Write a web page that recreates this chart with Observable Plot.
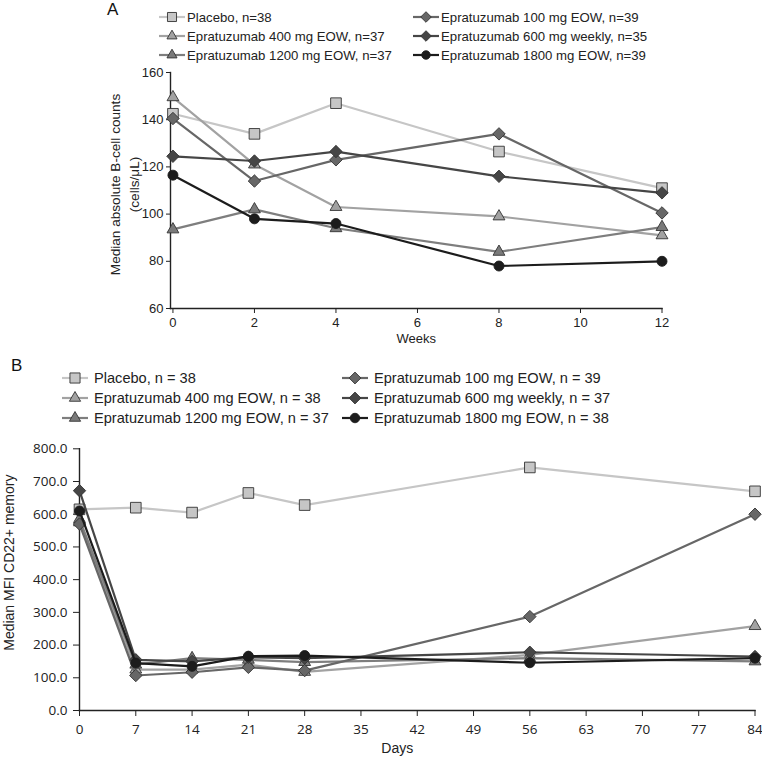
<!DOCTYPE html>
<html><head><meta charset="utf-8">
<script src="https://cdn.jsdelivr.net/npm/d3@7"></script>
<script src="https://cdn.jsdelivr.net/npm/@observablehq/plot@0.6"></script>
<style>
body{margin:0;background:#fff;font-family:"Liberation Sans",Arial,sans-serif;}
#wrap{position:relative;width:762px;height:760px;overflow:hidden;background:#fff;}
.panel{position:absolute;left:0;}
.plab{position:absolute;font-size:17px;color:#111;line-height:20px;}
.leg{position:absolute;display:flex;align-items:center;white-space:nowrap;color:#222;height:18px;}
</style></head><body><div id="wrap"></div>
<script>
// ---------- data ----------
const weeks = [0, 2, 4, 8, 12];
const weekTicks = [0, 2, 4, 6, 8, 10, 12];
const countTicks = [60, 80, 100, 120, 140, 160];
const seriesA = ["Placebo, n=38", "Epratuzumab 400 mg EOW, n=37", "Epratuzumab 1200 mg EOW, n=37",
                 "Epratuzumab 100 mg EOW, n=39", "Epratuzumab 600 mg weekly, n=35", "Epratuzumab 1800 mg EOW, n=39"];
const placeboA = [142.5, 134, 147, 126.5, 111];
const e400A    = [149.5, 121, 103, 99, 91];
const e1200A   = [93.5, 102, 94, 84, 94.5];
const e100A    = [140.5, 114, 123, 134, 100.5];
const e600A    = [124.5, 122.5, 126.5, 116, 109];
const e1800A   = [116.5, 98, 96, 78, 80];

const days = [0, 7, 14, 21, 28, 56, 84];
const dayTicks = [0, 7, 14, 21, 28, 35, 42, 49, 56, 63, 70, 77, 84];
const mfiTicks = [0, 100, 200, 300, 400, 500, 600, 700, 800];
const seriesB = ["Placebo, n = 38", "Epratuzumab 400 mg EOW, n = 38", "Epratuzumab 1200 mg EOW, n = 37",
                 "Epratuzumab 100 mg EOW, n = 39", "Epratuzumab 600 mg weekly, n = 37", "Epratuzumab 1800 mg EOW, n = 38"];
const placeboB = [615, 620, 605, 665, 628, 743, 670];
const e400B    = [575, 125, 125, 140, 118, 170, 258];
const e1200B   = [585, 140, 160, 155, 148, 160, 150];
const e100B    = [570, 107, 117, 132, 122, 287, 600];
const e600B    = [672, 155, 150, 163, 160, 178, 165];
const e1800B   = [610, 145, 135, 166, 168, 146, 160];

// ---------- styles ----------
const styles = [
  {line: "#c6c6c6", fill: "#c6c6c6", symbol: "square"},
  {line: "#a2a2a2", fill: "#a2a2a2", symbol: "triangle"},
  {line: "#7e7e7e", fill: "#7a7a7a", symbol: "triangle"},
  {line: "#676767", fill: "#676767", symbol: "diamond2"},
  {line: "#464646", fill: "#464646", symbol: "diamond2"},
  {line: "#1c1c1c", fill: "#1c1c1c", symbol: "circle"}
];
const symR = {square: 6, triangle: 4.4, diamond2: 5.6, circle: 5};
const d3sym = {square: d3.symbolSquare, triangle: d3.symbolTriangle, diamond2: d3.symbolDiamond2, circle: d3.symbolCircle};
const FONT = "Liberation Sans, Arial, sans-serif";

const valuesA = [placeboA, e400A, e1200A, e100A, e600A, e1800A];
const valuesB = [placeboB, e400B, e1200B, e100B, e600B, e1800B];
const rowsA = valuesA.flatMap((vals, k) => vals.map((v, j) => ({k, x: weeks[j], y: v})));
const rowsB = valuesB.flatMap((vals, k) => vals.map((v, j) => ({k, x: days[j], y: v})));

function seriesMarks(rows, scale) {
  return styles.flatMap((s, k) => {
    const d = rows.filter(r => r.k === k);
    return [
      Plot.line(d, {x: "x", y: "y", stroke: s.line, strokeWidth: 2.2}),
      Plot.dot(d, {x: "x", y: "y", symbol: () => s.symbol, fill: s.fill,
        stroke: s.symbol === "circle" ? s.fill : "#333", strokeWidth: 0.9, r: symR[s.symbol] * scale})
    ];
  });
}

const wrap = document.getElementById("wrap");

function legend(names, cols, rowsY, fontSize, gap, scale) {
  names.forEach((name, i) => {
    const col = Math.floor(i / 3), row = i % 3;
    const s = styles[i];
    const div = document.createElement("div");
    div.className = "leg";
    div.style.left = cols[col] + "px";
    div.style.top = (rowsY[row] - 9) + "px";
    div.style.fontSize = fontSize + "px";
    const ns = "http://www.w3.org/2000/svg";
    const svg = document.createElementNS(ns, "svg");
    svg.setAttribute("width", 26); svg.setAttribute("height", 16);
    svg.style.marginRight = gap + "px";
    const ln = document.createElementNS(ns, "line");
    ln.setAttribute("x1", 0); ln.setAttribute("x2", 26); ln.setAttribute("y1", 8); ln.setAttribute("y2", 8);
    ln.setAttribute("stroke", s.line); ln.setAttribute("stroke-width", 2.2);
    svg.appendChild(ln);
    const p = document.createElementNS(ns, "path");
    const rr = symR[s.symbol] * scale;
    p.setAttribute("d", d3.symbol(d3sym[s.symbol], Math.PI * rr * rr)());
    p.setAttribute("transform", "translate(13,8)");
    p.setAttribute("fill", s.fill);
    p.setAttribute("stroke", s.symbol === "circle" ? s.fill : "#333");
    p.setAttribute("stroke-width", 0.9);
    svg.appendChild(p);
    div.appendChild(svg);
    const t = document.createElement("span");
    t.textContent = name;
    div.appendChild(t);
    wrap.appendChild(div);
  });
}

// ---------- Panel A ----------
const labA = document.createElement("div");
labA.className = "plab"; labA.textContent = "A";
labA.style.left = "107px"; labA.style.top = "0px";
wrap.appendChild(labA);
legend(seriesA, [159, 413], [17, 36, 55], 13.2, 2, 0.85);

const chartA = Plot.plot({
  width: 762, height: 292,
  marginTop: 8, marginBottom: 48, marginLeft: 170, marginRight: 100.5,
  style: {fontFamily: FONT, fontSize: "13px", color: "#222", background: "transparent"},
  x: {domain: [-0.06, 12]},
  y: {domain: [60, 160]},
  marks: [
    Plot.frame({anchor: "left", stroke: "#222", strokeWidth: 1.4}),
    Plot.frame({anchor: "bottom", stroke: "#222", strokeWidth: 1.4}),
    Plot.axisY({ticks: countTicks, tickSize: 4, tickPadding: 3, label: null, fontSize: 13, stroke: "#222"}),
    Plot.axisX({ticks: weekTicks, tickSize: 5, tickPadding: 4, label: null, fontSize: 13, stroke: "#222"}),
    Plot.text(["Weeks"], {frameAnchor: "bottom", dy: 34, fontSize: 13, fill: "#222"}),
    Plot.text(["Median absolute B-cell counts\n(cells/μL)"], {frameAnchor: "left", rotate: -90, dx: -47, dy: -6,
      textAnchor: "middle", lineAnchor: "middle", fontSize: 13.6, lineHeight: 1.35, fill: "#222"}),
    ...seriesMarks(rowsA, 1)
  ]
});
chartA.classList.add("panel");
chartA.style.top = "64px";
wrap.appendChild(chartA);

// ---------- Panel B ----------
const labB = document.createElement("div");
labB.className = "plab"; labB.textContent = "B";
labB.style.left = "11px"; labB.style.top = "356px";
wrap.appendChild(labB);
legend(seriesB, [62, 342], [378, 398, 418], 14.6, 6, 0.95);

const chartB = Plot.plot({
  width: 762, height: 320,
  marginTop: 8.3, marginBottom: 50, marginLeft: 79, marginRight: 7.5,
  style: {fontFamily: FONT, fontSize: "13px", color: "#222", background: "transparent"},
  x: {domain: [0, 84]},
  y: {domain: [0, 800]},
  marks: [
    Plot.frame({anchor: "left", stroke: "#222", strokeWidth: 1.4}),
    Plot.frame({anchor: "bottom", stroke: "#222", strokeWidth: 1.4}),
    Plot.axisY({ticks: mfiTicks, tickFormat: d => d.toFixed(1), tickSize: 6, tickPadding: 6, label: null,
      fontSize: 13.5, fontFamily: "Open Sans, sans-serif", stroke: "#222"}),
    Plot.axisX({ticks: dayTicks, tickSize: 6, tickPadding: 8, label: null,
      fontSize: 13.5, fontFamily: "Open Sans, sans-serif", stroke: "#222"}),
    Plot.text(["Days"], {frameAnchor: "bottom", dy: 42, dx: -20, fontSize: 14, fill: "#222"}),
    Plot.text(["Median MFI CD22+ memory"], {frameAnchor: "left", rotate: -90, dx: -70, dy: -17,
      textAnchor: "middle", fontSize: 14, fill: "#222"}),
    ...seriesMarks(rowsB, 1)
  ]
});
chartB.classList.add("panel");
chartB.style.top = "440px";
wrap.appendChild(chartB);
</script></body></html>
